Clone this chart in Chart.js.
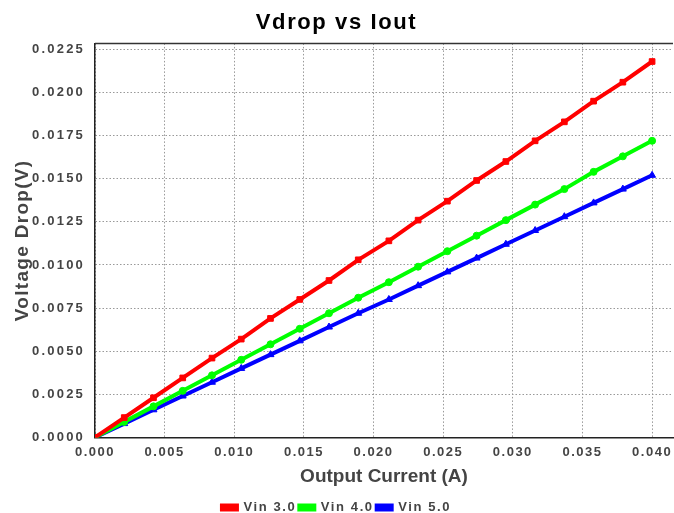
<!DOCTYPE html>
<html>
<head>
<meta charset="utf-8">
<script src="https://cdn.jsdelivr.net/npm/chart.js@4/dist/chart.umd.min.js"></script>
<style>
  html, body { margin: 0; padding: 0; background: #fff; }
  #wrap { width: 674px; height: 513px; }
</style>
</head>
<body>
<div id="wrap"><canvas id="myChart"></canvas></div>
<script>
// output current (A)
const iout = [0, 0.0021, 0.0042, 0.0063, 0.0084, 0.0105, 0.0126, 0.0147, 0.0168, 0.0189,
  0.0211, 0.0232, 0.0253, 0.0274, 0.0295, 0.0316, 0.0337, 0.0358, 0.0379, 0.0400];
// voltage drop (V) for each input voltage
const vin3 = [0, 0.00115, 0.0023, 0.00345, 0.0046, 0.0057, 0.0069, 0.0080, 0.0091, 0.0103,
  0.0114, 0.0126, 0.0137, 0.0149, 0.0160, 0.0172, 0.0183, 0.0195, 0.0206, 0.0218];
const vin4 = [0, 0.0009, 0.0018, 0.0027, 0.0036, 0.0045, 0.0054, 0.0063, 0.0072, 0.0081,
  0.0090, 0.0099, 0.0108, 0.0117, 0.0126, 0.0135, 0.0144, 0.0154, 0.0163, 0.0172];
const vin5 = [0, 0.0008, 0.0016, 0.0024, 0.0032, 0.0040, 0.0048, 0.0056, 0.0064, 0.0072,
  0.0080, 0.0088, 0.0096, 0.0104, 0.0112, 0.0120, 0.0128, 0.0136, 0.0144, 0.0152];
const seriesNames = ["Vin 3.0", "Vin 4.0", "Vin 5.0"];

function toPoints(ys) {
  return ys.map((y, i) => ({ x: iout[i], y: y }));
}

const labelColor = "#444";
const fontFam = "'Liberation Sans', Arial, sans-serif";
const SPACE = "1.6px";

function withSpacing(fn, sp) {
  return function (...args) {
    const c = this.ctx;
    const old = c.letterSpacing;
    c.letterSpacing = sp;
    fn.apply(this, args);
    c.letterSpacing = old;
  };
}

// letter spacing per text element, like the reference
const spacing = {
  id: "spacing",
  beforeUpdate(chart) { chart.ctx.letterSpacing = SPACE; },
  beforeDraw(chart) { chart.ctx.letterSpacing = SPACE; },
  beforeLayout(chart) {
    const x = chart.scales.x, y = chart.scales.y;
    if (!x || x._patched) return;
    x.drawLabels = withSpacing(x.drawLabels, "1.5px");
    x.drawTitle = withSpacing(x.drawTitle, "0px");
    y.drawLabels = withSpacing(y.drawLabels, "2.2px");
    y.drawTitle = withSpacing(y.drawTitle, "1.3px");
    // no extra room for the last x label, plot runs to the edge
    x._calculatePadding = function () {
      this.paddingLeft = this.paddingRight = this.paddingTop = this.paddingBottom = 0;
    };
    x._patched = true;
  }
};

// top edge of the plot area
const frame = {
  id: "frame",
  afterDraw(chart) {
    const a = chart.chartArea;
    const ctx = chart.ctx;
    ctx.save();
    ctx.strokeStyle = "#333";
    ctx.lineWidth = 1.5;
    ctx.beginPath();
    ctx.moveTo(a.left, a.top);
    ctx.lineTo(a.right, a.top);
    ctx.stroke();
    ctx.restore();
  }
};

const config = {
  type: "line",
  data: {
    datasets: [
      { label: seriesNames[0], data: toPoints(vin3), borderColor: "#ff0000", backgroundColor: "#ff0000", pointStyle: "rect", pointRadius: 4 },
      { label: seriesNames[1], data: toPoints(vin4), borderColor: "#00ff00", backgroundColor: "#00ff00", pointStyle: "circle", pointRadius: 3.5 },
      { label: seriesNames[2], data: toPoints(vin5), borderColor: "#0000ff", backgroundColor: "#0000ff", pointStyle: "triangle", pointRadius: 4 }
    ]
  },
  options: {
    responsive: true,
    maintainAspectRatio: false,
    animation: false,
    layout: { autoPadding: false, padding: { left: 0, right: 1, top: 4, bottom: -11 } },
    elements: { line: { borderWidth: 4, tension: 0 }, point: { borderWidth: 1 } },
    plugins: {
      title: {
        display: true,
        text: "Vdrop vs Iout",
        color: "#000",
        font: { family: fontFam, size: 22, weight: "bold" },
        padding: { top: 6, bottom: 7 }
      },
      legend: {
        position: "bottom",
        labels: {
          boxWidth: 15,
          boxHeight: 4,
          padding: 3,
          color: labelColor,
          font: { family: fontFam, size: 13, weight: "bold" }
        }
      },
      tooltip: { enabled: false }
    },
    scales: {
      x: {
        type: "linear",
        min: 0,
        max: 0.0415,
        title: {
          display: true,
          text: "Output Current (A)",
          color: labelColor,
          font: { family: fontFam, size: 19, weight: "bold", lineHeight: 1 },
          padding: { top: 0, bottom: 12 }
        },
        grid: { color: "#999", drawTicks: false },
        border: { display: true, color: "#222", width: 1.5, dash: [1.5, 2] },
        ticks: {
          stepSize: 0.005,
          includeBounds: false,
          padding: 7,
          maxRotation: 0,
          color: labelColor,
          font: { family: fontFam, size: 13, weight: "bold" },
          callback: (v) => v.toFixed(3)
        }
      },
      y: {
        type: "linear",
        min: 0,
        max: 0.02285,
        afterFit: (s) => { s.width = 95; },
        title: {
          display: true,
          text: "Voltage Drop(V)",
          color: labelColor,
          font: { family: fontFam, size: 19, weight: "bold" },
          padding: { top: 11, bottom: 0 }
        },
        grid: { color: "#999", drawTicks: false },
        border: { display: true, color: "#222", width: 1.5, dash: [1.5, 2] },
        ticks: {
          stepSize: 0.0025,
          includeBounds: false,
          padding: 10,
          color: labelColor,
          font: { family: fontFam, size: 13, weight: "bold" },
          callback: (v) => v.toFixed(4)
        }
      }
    }
  },
  plugins: [spacing, frame]
};

new Chart(document.getElementById("myChart"), config);
</script>
</body>
</html>
